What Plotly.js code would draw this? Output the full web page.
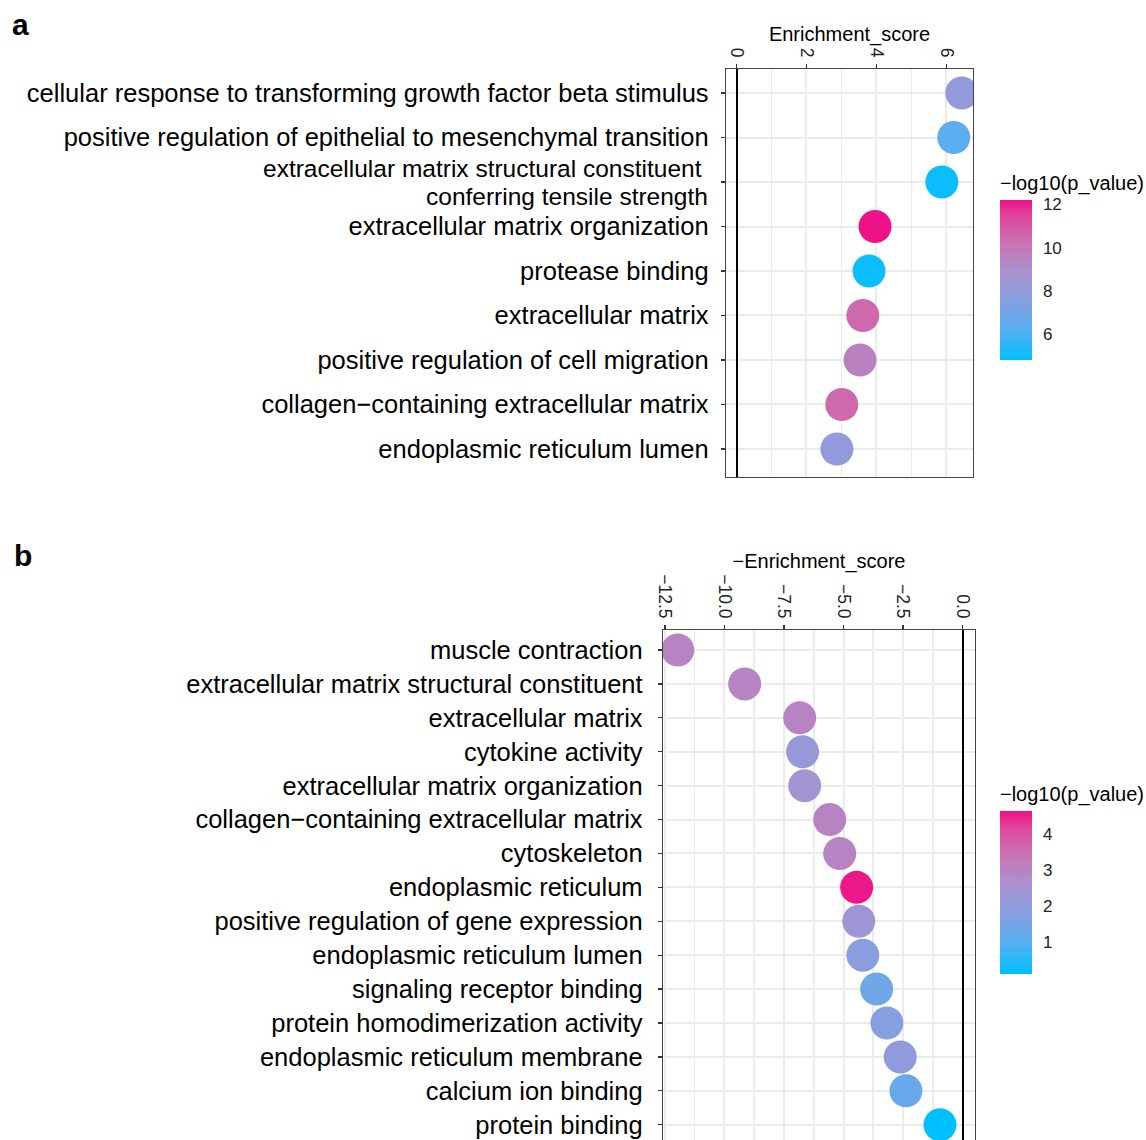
<!DOCTYPE html>
<html><head><meta charset="utf-8">
<script src="https://cdn.plot.ly/plotly-3.0.1.min.js"></script>
<style>body{margin:0;background:#fff}#chart{width:1146px;height:1140px}</style>
</head><body><div id="chart"></div>
<script>
// Panel a data
const catsA = [
  "cellular response to transforming growth factor beta stimulus",
  "positive regulation of epithelial to mesenchymal transition",
  "extracellular matrix structural constituent <br>conferring tensile strength",
  "extracellular matrix organization",
  "protease binding",
  "extracellular matrix",
  "positive regulation of cell migration",
  "collagen\u2212containing extracellular matrix",
  "endoplasmic reticulum lumen"
];
const scoreA = [6.44, 6.21, 5.87, 3.96, 3.79, 3.61, 3.53, 3.01, 2.87];
const logpA = [8.0, 6.3, 5.0, 12.2, 5.0, 10.5, 9.6, 10.5, 8.0];

// Panel b data
const catsB = [
  "muscle contraction",
  "extracellular matrix structural constituent",
  "extracellular matrix",
  "cytokine activity",
  "extracellular matrix organization",
  "collagen\u2212containing extracellular matrix",
  "cytoskeleton",
  "endoplasmic reticulum",
  "positive regulation of gene expression",
  "endoplasmic reticulum lumen",
  "signaling receptor binding",
  "protein homodimerization activity",
  "endoplasmic reticulum membrane",
  "calcium ion binding",
  "protein binding"
];
const negScoreB = [-11.96, -9.15, -6.84, -6.72, -6.63, -5.58, -5.16, -4.45, -4.36, -4.19, -3.61, -3.18, -2.62, -2.38, -0.95];
const logpB = [3.0, 3.0, 3.0, 2.2, 2.5, 3.0, 3.0, 4.6, 2.4, 1.9, 1.4, 1.8, 2.0, 1.3, 0.12];

const W = 1146, H = 1140;
const px = v => v / W, py = v => 1 - v / H;
const FONT = "Liberation Sans, Arial, sans-serif";
const LABEL_SIZE = 25.5;

const cscale = [
  [0, "#00BFFF"], [0.2, "#5AAEF0"], [0.4, "#8C9CDE"], [0.55, "#A992CF"],
  [0.75, "#CB6FB0"], [0.9, "#E0449C"], [1, "#EE1289"]
];

const traceA = {
  type: "scatter", mode: "markers", x: scoreA, y: catsA,
  xaxis: "x", yaxis: "y",
  marker: {size: 33, color: logpA, coloraxis: "coloraxis", line: {width: 0}, opacity: 1},
  hoverinfo: "x+y"
};
const traceB = {
  type: "scatter", mode: "markers", x: negScoreB, y: catsB,
  xaxis: "x2", yaxis: "y2",
  marker: {size: 33, color: logpB, coloraxis: "coloraxis2", line: {width: 0}, opacity: 1},
  hoverinfo: "x+y"
};

const gridC = "#EBEBEB";
function xax(domain, range, dtick, minorDt, fmt, title, anchor) {
  return {
    domain: domain, range: range, side: "top", anchor: anchor,
    tickmode: "linear", tick0: 0, dtick: dtick, tickformat: fmt,
    tickangle: 90, ticks: "outside", ticklen: 4, tickcolor: "#333", tickwidth: 1.2,
    tickfont: {family: FONT, size: 17.5, color: "#222"},
    showgrid: true, gridcolor: gridC, gridwidth: 2,
    minor: {dtick: minorDt, tick0: 0, showgrid: true, gridcolor: gridC, gridwidth: 1.6, ticks: ""},
    zeroline: true, zerolinecolor: "#000", zerolinewidth: 2,
    showline: true, linecolor: "#444", linewidth: 1.3, mirror: true,
    title: {text: title, font: {family: FONT, size: 20, color: "#000"}, standoff: 0},
    fixedrange: true
  };
}
// multi-line labels are drawn as annotations with tighter line spacing
function yax(domain, cats, range, anchor, standoff) {
  return {
    domain: domain, anchor: anchor, type: "category",
    categoryorder: "array", categoryarray: cats, range: range,
    tickmode: "array", tickvals: cats,
    ticktext: cats.map(c => c.includes("<br>") ? "" : c),
    ticks: "outside", ticklen: 4, tickcolor: "#333", tickwidth: 1.2,
    tickfont: {family: FONT, size: LABEL_SIZE, color: "#000"},
    showgrid: true, gridcolor: gridC, gridwidth: 2,
    zeroline: false, showline: true, linecolor: "#444", linewidth: 1.3, mirror: true,
    ticklabelstandoff: standoff, fixedrange: true
  };
}
function multiLineAnns(cats, yref, xRight) {
  const anns = [];
  cats.forEach((c, i) => {
    if (!c.includes("<br>")) return;
    const parts = c.split("<br>");
    const n = parts.length;
    parts.forEach((p, j) => {
      const trailing = /\s$/.test(p);
      anns.push({
        text: p.trim(), xref: "paper", yref: yref, x: px(xRight - (trailing ? 6 : 0)), y: i,
        xanchor: "right", yanchor: "middle", showarrow: false,
        yshift: -(j - (n - 1) / 2) * 28,
        font: {family: FONT, size: 24.5, color: "#000"}
      });
    });
  });
  return anns;
}
function cbar(yTop, len, vals) {
  return {
    x: px(1000), xanchor: "left", y: py(yTop), yanchor: "top",
    lenmode: "pixels", len: len, thickness: 32, xpad: 0, ypad: 0,
    outlinewidth: 0, tickmode: "array", tickvals: vals,
    ticks: "outside", ticklen: 8, tickcolor: "#fff",
    tickfont: {family: FONT, size: 17, color: "#222"},
    title: {text: "\u2212log10(p_value)", side: "top", font: {family: FONT, size: 20, color: "#000"}}
  };
}

const layout = {
  width: W, height: H, margin: {l: 0, r: 0, t: 0, b: 0},
  paper_bgcolor: "#fff", plot_bgcolor: "#fff", showlegend: false,
  font: {family: FONT},
  xaxis: xax([px(726), px(973)], [-0.3, 6.76], 2, 1, "d", "Enrichment_score", "y"),
  yaxis: yax([py(477), py(69)], catsA, [8.63, -0.54], "x", 7),
  xaxis2: xax([px(663), px(975)], [-12.58, 0.52], 2.5, 1.25, ".1f", "\u2212Enrichment_score", "y2"),
  yaxis2: yax([py(1140), py(630)], catsB, [14.45, -0.59], "x2", 10),
  coloraxis: {cmin: 4.8, cmax: 12.2, colorscale: cscale, colorbar: cbar(172, 188, [6, 8, 10, 12])},
  coloraxis2: {cmin: 0.12, cmax: 4.65, colorscale: cscale, colorbar: cbar(783, 191, [1, 2, 3, 4])},
  annotations: [
    {text: "<b>a</b>", xref: "paper", yref: "paper", x: px(20), y: py(25), showarrow: false,
     font: {family: FONT, size: 30, color: "#000"}, xanchor: "center", yanchor: "middle"},
    {text: "<b>b</b>", xref: "paper", yref: "paper", x: px(23), y: py(555), showarrow: false,
     font: {family: FONT, size: 30, color: "#000"}, xanchor: "center", yanchor: "middle"}
  ].concat(multiLineAnns(catsA, "y", 710), multiLineAnns(catsB, "y2", 642))
};

Plotly.newPlot("chart", [traceA, traceB], layout, {displayModeBar: false, staticPlot: true});
</script>
</body></html>
